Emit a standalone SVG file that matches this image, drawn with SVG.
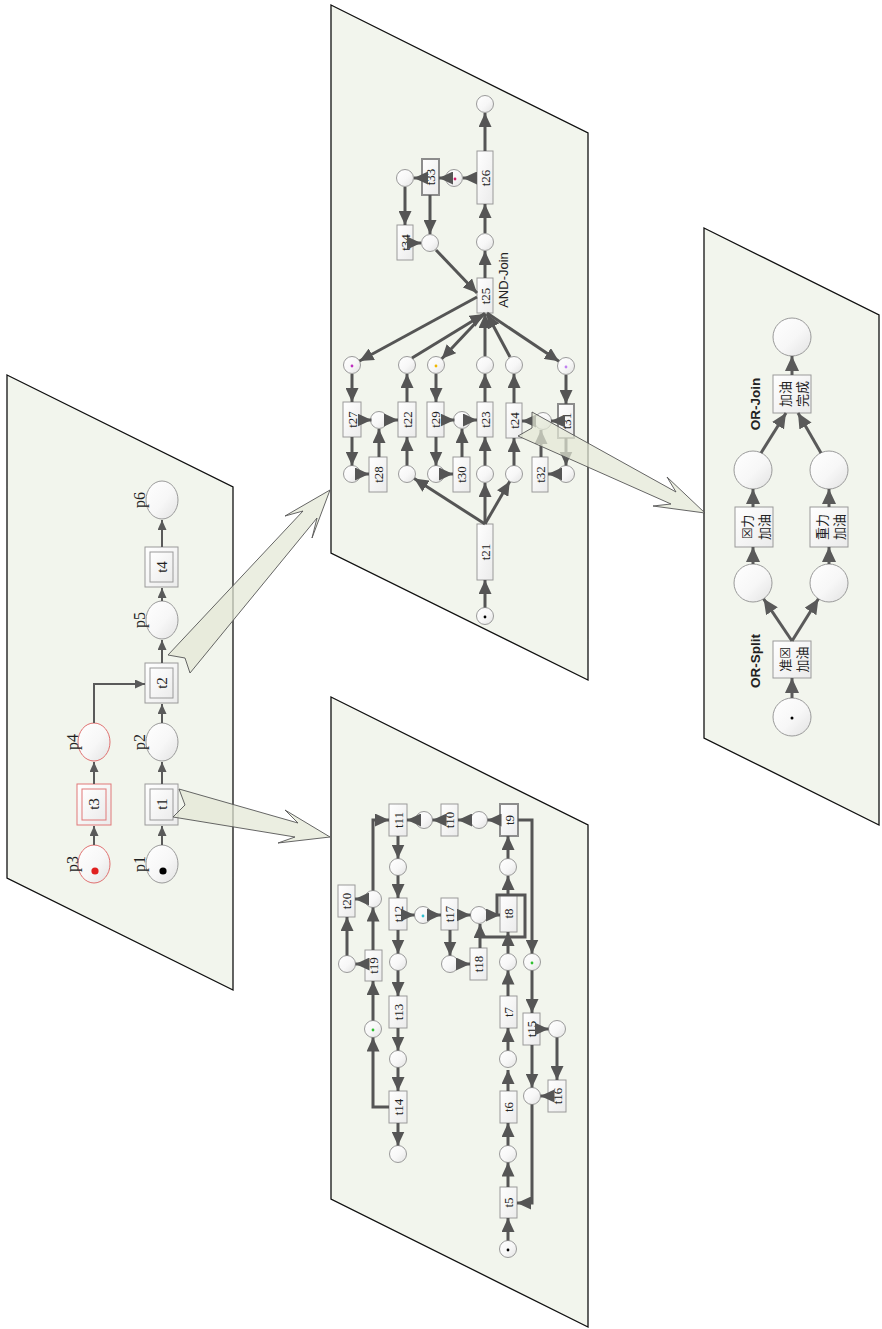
<svg xmlns="http://www.w3.org/2000/svg" width="882" height="1329" viewBox="0 0 882 1329">
<defs>
  <linearGradient id="gPl" x1="0" y1="0" x2="1" y2="1">
    <stop offset="0" stop-color="#ffffff"/>
    <stop offset="0.55" stop-color="#f7f7f7"/>
    <stop offset="1" stop-color="#e2e2e2"/>
  </linearGradient>
  <linearGradient id="gTr" x1="0" y1="0" x2="1" y2="1">
    <stop offset="0" stop-color="#ffffff"/>
    <stop offset="1" stop-color="#ebebeb"/>
  </linearGradient>
  <marker id="ahS" markerUnits="userSpaceOnUse" markerWidth="10" markerHeight="9" refX="10" refY="4.5" orient="auto">
    <path d="M0,0 L10,4.5 L0,9 z" fill="#5a5a5a"/>
  </marker>
  <marker id="ah" markerUnits="userSpaceOnUse" markerWidth="14" markerHeight="13" refX="14" refY="6.5" orient="auto">
    <path d="M0,0 L14,6.5 L0,13 z" fill="#555"/>
  </marker>
  <marker id="ahL" markerUnits="userSpaceOnUse" markerWidth="15" markerHeight="14" refX="15" refY="7" orient="auto">
    <path d="M0,0 L15,7 L0,14 z" fill="#5a5a5a"/>
  </marker>
  <style>
    .panel { fill:#f2f5ed; stroke:#111; stroke-width:1.3; }
    .pl { fill:url(#gPl); stroke:#9a9a9a; stroke-width:1; }
    .plr { fill:url(#gPl); stroke:#e07070; stroke-width:1; }
    .tr { fill:url(#gTr); stroke:#9a9a9a; stroke-width:1; }
    .trh { fill:url(#gTr); stroke:#8c8c8c; stroke-width:2; }
    .trr { fill:url(#gTr); stroke:#e07878; stroke-width:1; }
    .e { fill:none; stroke:#555; stroke-width:3; marker-end:url(#ah); }
    .eS { fill:none; stroke:#5a5a5a; stroke-width:2; marker-end:url(#ahS); }
    .eL { fill:none; stroke:#5a5a5a; stroke-width:3; marker-end:url(#ahL); }
    .ln { fill:none; stroke:#555; stroke-width:3; }
    .blk { fill:#e3e8d6; fill-opacity:0.72; stroke:#555; stroke-width:0.9; }
    .t { font-family:"Liberation Serif","Times New Roman",serif; font-size:13px; fill:#222; text-anchor:middle; dominant-baseline:central; }
    .tB { font-family:"Liberation Serif","Times New Roman",serif; font-size:15px; fill:#222; text-anchor:middle; dominant-baseline:central; }
    .pL { font-family:"Liberation Serif","Times New Roman",serif; font-size:16px; fill:#222; text-anchor:middle; dominant-baseline:central; }
    .s { font-family:"Liberation Sans",Arial,sans-serif; font-size:13px; fill:#222; text-anchor:middle; dominant-baseline:central; }
    .sb { font-family:"Liberation Sans",Arial,sans-serif; font-size:13.5px; font-weight:bold; fill:#222; text-anchor:middle; dominant-baseline:central; }
    .zh { font-family:"Noto Sans CJK SC","DejaVu Sans",sans-serif; font-size:13px; fill:#222; text-anchor:middle; dominant-baseline:central; }
  </style>
</defs>

<!-- four tilted panels -->
<g id="panels">
  <polygon id="panel-main" class="panel" points="7,375 233,487 233,990 7,878"/>
  <polygon id="panel-and" class="panel" points="331,5 588,133 588,680 331,553"/>
  <polygon id="panel-seq" class="panel" points="331,697 588,825 588,1327 331,1199"/>
  <polygon id="panel-or" class="panel" points="704,228 879,315 879,825 704,738"/>
</g>

<!-- ===== main net ===== -->
<g id="p6"><ellipse class="pl" cx="162" cy="500" rx="16" ry="19"/><text class="pL" transform="translate(139,500) rotate(-90)">p6</text></g>
<g id="t4"><rect class="tr" x="145" y="547" width="33" height="40"/><rect class="tr" x="150" y="552" width="23" height="30"/><text class="tB" transform="translate(162,567) rotate(-90)">t4</text></g>
<g id="p5"><ellipse class="pl" cx="162" cy="620" rx="16" ry="19"/><text class="pL" transform="translate(139,620) rotate(-90)">p5</text></g>
<g id="t2"><rect class="tr" x="145" y="663" width="33" height="40"/><rect class="tr" x="150" y="668" width="23" height="30"/><text class="tB" transform="translate(162,683) rotate(-90)">t2</text></g>
<g id="p4"><ellipse class="plr" cx="94" cy="742" rx="16" ry="19"/><text class="pL" transform="translate(72,742) rotate(-90)">p4</text></g>
<g id="p2"><ellipse class="pl" cx="162" cy="742" rx="16" ry="19"/><text class="pL" transform="translate(139,742) rotate(-90)">p2</text></g>
<g id="t3"><rect class="trr" x="77" y="784" width="34" height="41"/><rect class="trr" x="82" y="789" width="24" height="31"/><text class="tB" transform="translate(94,804) rotate(-90)">t3</text></g>
<g id="t1"><rect class="tr" x="145" y="784" width="33" height="41"/><rect class="tr" x="150" y="789" width="23" height="31"/><text class="tB" transform="translate(162,804) rotate(-90)">t1</text></g>
<g id="p3"><ellipse class="plr" cx="94" cy="864" rx="16" ry="19"/><circle cx="95" cy="871" r="3.6" fill="#e02020"/><text class="pL" transform="translate(72,864) rotate(-90)">p3</text></g>
<g id="p1"><ellipse class="pl" cx="162" cy="864" rx="16" ry="19"/><circle cx="163" cy="871" r="3.6" fill="#000"/><text class="pL" transform="translate(139,864) rotate(-90)">p1</text></g>

<!-- ===== AND-join net ===== -->
<g id="a-p26out"><circle class="pl" cx="485" cy="104" r="8.5"/></g>
<g id="t26"><rect class="tr" x="477" y="151" width="16" height="53"/><text class="t" transform="translate(485,178) rotate(-90)">t26</text></g>
<g id="a-p26in"><circle class="pl" cx="485" cy="242" r="8.5"/></g>
<g id="t25"><rect class="tr" x="477" y="278" width="16" height="35"/><text class="t" transform="translate(485,296) rotate(-90)">t25</text><text class="s" transform="translate(503,280) rotate(-90)">AND-Join</text></g>
<g id="a-p33in"><circle class="pl" cx="454" cy="178" r="8.5"/><circle cx="455" cy="179" r="1.4" fill="#d0206a"/></g>
<g id="t33"><rect class="trh" x="422" y="159" width="17" height="36"/><text class="t" transform="translate(430.5,177) rotate(-90)">t33</text></g>
<g id="a-p34in"><circle class="pl" cx="405" cy="178" r="8.5"/></g>
<g id="t34"><rect class="tr" x="397" y="225" width="16" height="35"/><text class="t" transform="translate(405,242.5) rotate(-90)">t34</text></g>
<g id="a-p25back"><circle class="pl" cx="430" cy="243" r="8.5"/></g>

<g id="a-r1"><circle class="pl" cx="352" cy="365" r="8.5"/><circle cx="352" cy="366" r="1.4" fill="#c030c0"/></g>
<g id="a-r2"><circle class="pl" cx="407" cy="365" r="8.5"/></g>
<g id="a-r3"><circle class="pl" cx="436" cy="365" r="8.5"/><circle cx="436" cy="366" r="1.4" fill="#f0b800"/></g>
<g id="a-r4"><circle class="pl" cx="485" cy="365" r="8.5"/></g>
<g id="a-r5"><circle class="pl" cx="514" cy="365" r="8.5"/></g>
<g id="a-r6"><circle class="pl" cx="566" cy="366" r="8.5"/><circle cx="566" cy="367" r="1.4" fill="#c080f0"/></g>

<g id="t27"><rect class="tr" x="343" y="402" width="18" height="35"/><text class="t" transform="translate(352,419.5) rotate(-90)">t27</text></g>
<g id="a-m1"><circle class="pl" cx="379" cy="420" r="8.5"/></g>
<g id="t22"><rect class="tr" x="398" y="402" width="18" height="35"/><text class="t" transform="translate(407,419.5) rotate(-90)">t22</text></g>
<g id="t29"><rect class="tr" x="427" y="402" width="17" height="35"/><text class="t" transform="translate(435.5,419.5) rotate(-90)">t29</text></g>
<g id="a-m2"><circle class="pl" cx="462" cy="420" r="8.5"/></g>
<g id="t23"><rect class="tr" x="477" y="402" width="16" height="35"/><text class="t" transform="translate(485,419.5) rotate(-90)">t23</text></g>
<g id="t24"><rect class="tr" x="506" y="403" width="16" height="35"/><text class="t" transform="translate(514,420.5) rotate(-90)">t24</text></g>
<g id="a-m3"><circle class="pl" cx="543" cy="421" r="8.5"/></g>
<g id="t31"><rect class="trh" x="558" y="404" width="16" height="34"/><text class="t" transform="translate(566,421) rotate(-90)">t31</text></g>

<g id="a-b1"><circle class="pl" cx="352" cy="474" r="8.5"/></g>
<g id="t28"><rect class="tr" x="369" y="457" width="18" height="35"/><text class="t" transform="translate(378,474.5) rotate(-90)">t28</text></g>
<g id="a-b2"><circle class="pl" cx="407" cy="474" r="8.5"/></g>
<g id="a-b3"><circle class="pl" cx="436" cy="474" r="8.5"/></g>
<g id="t30"><rect class="tr" x="453" y="457" width="17" height="35"/><text class="t" transform="translate(461.5,474.5) rotate(-90)">t30</text></g>
<g id="a-b4"><circle class="pl" cx="485" cy="474" r="8.5"/></g>
<g id="a-b5"><circle class="pl" cx="514" cy="474" r="8.5"/></g>
<g id="t32"><rect class="tr" x="532" y="457" width="16" height="35"/><text class="t" transform="translate(540,474.5) rotate(-90)">t32</text></g>
<g id="a-b6"><circle class="pl" cx="566" cy="474" r="8.5"/></g>
<g id="t21"><rect class="tr" x="477" y="524" width="16" height="56"/><text class="t" transform="translate(485,552) rotate(-90)">t21</text></g>
<g id="a-start"><circle class="pl" cx="485" cy="616" r="8.5"/><circle cx="485" cy="617" r="1.4" fill="#000"/></g>

<!-- ===== sequence / loop net ===== -->
<g id="t11"><rect class="tr" x="389" y="804" width="18" height="32"/><text class="t" transform="translate(398,820) rotate(-90)">t11</text></g>
<g id="s-p10"><circle class="pl" cx="424" cy="820" r="8.5"/></g>
<g id="t10"><rect class="tr" x="441" y="804" width="17" height="32"/><text class="t" transform="translate(449.5,820) rotate(-90)">t10</text></g>
<g id="s-p9"><circle class="pl" cx="479" cy="820" r="8.5"/></g>
<g id="t9"><rect class="trh" x="500" y="804" width="18" height="32"/><text class="t" transform="translate(509,820) rotate(-90)">t9</text></g>
<g id="s-a"><circle class="pl" cx="398" cy="867" r="8.5"/></g>
<g id="s-b"><circle class="pl" cx="508" cy="867" r="8.5"/></g>
<g id="t20"><rect class="tr" x="338" y="885" width="17" height="32"/><text class="t" transform="translate(346.5,901) rotate(-90)">t20</text></g>
<g id="s-c"><circle class="pl" cx="373" cy="899" r="8.5"/></g>
<g id="t12"><rect class="tr" x="389" y="898" width="18" height="32"/><text class="t" transform="translate(398,914) rotate(-90)">t12</text></g>
<g id="s-d"><circle class="pl" cx="423" cy="915" r="8.5"/><circle cx="423" cy="916" r="1.4" fill="#30c0d0"/></g>
<g id="t17"><rect class="tr" x="441" y="898" width="17" height="32"/><text class="t" transform="translate(449.5,914) rotate(-90)">t17</text></g>
<g id="s-e"><circle class="pl" cx="479" cy="915" r="8.5"/></g>
<g id="t8"><rect class="tr" x="500" y="895" width="17" height="37"/><text class="t" transform="translate(508.5,913.5) rotate(-90)">t8</text></g>
<g id="t19"><rect class="tr" x="365" y="950" width="17" height="31"/><text class="t" transform="translate(373.5,965.5) rotate(-90)">t19</text></g>
<g id="s-f"><circle class="pl" cx="347" cy="964" r="8.5"/></g>
<g id="s-g"><circle class="pl" cx="398" cy="962" r="8.5"/></g>
<g id="s-h"><circle class="pl" cx="450" cy="964" r="8.5"/></g>
<g id="t18"><rect class="tr" x="470" y="948" width="17" height="32"/><text class="t" transform="translate(478.5,964) rotate(-90)">t18</text></g>
<g id="s-i"><circle class="pl" cx="508" cy="962" r="8.5"/></g>
<g id="s-j"><circle class="pl" cx="532" cy="962" r="8.5"/><circle cx="532" cy="963" r="1.4" fill="#30c030"/></g>
<g id="t13"><rect class="tr" x="389" y="996" width="18" height="32"/><text class="t" transform="translate(398,1012) rotate(-90)">t13</text></g>
<g id="t7"><rect class="tr" x="500" y="996" width="17" height="32"/><text class="t" transform="translate(508.5,1012) rotate(-90)">t7</text></g>
<g id="s-k"><circle class="pl" cx="373" cy="1029" r="8.5"/><circle cx="373" cy="1030" r="1.4" fill="#30c030"/></g>
<g id="t15"><rect class="tr" x="523" y="1013" width="17" height="32"/><text class="t" transform="translate(531.5,1029) rotate(-90)">t15</text></g>
<g id="s-l"><circle class="pl" cx="557" cy="1029" r="8.5"/></g>
<g id="s-m"><circle class="pl" cx="398" cy="1059" r="8.5"/></g>
<g id="s-n"><circle class="pl" cx="508" cy="1059" r="8.5"/></g>
<g id="t16"><rect class="tr" x="548" y="1080" width="18" height="32"/><text class="t" transform="translate(557,1096) rotate(-90)">t16</text></g>
<g id="t14"><rect class="tr" x="389" y="1091" width="18" height="32"/><text class="t" transform="translate(398,1107) rotate(-90)">t14</text></g>
<g id="t6"><rect class="tr" x="500" y="1091" width="17" height="32"/><text class="t" transform="translate(508.5,1107) rotate(-90)">t6</text></g>
<g id="s-o"><circle class="pl" cx="532" cy="1096" r="8.5"/></g>
<g id="s-q"><circle class="pl" cx="398" cy="1154" r="8.5"/></g>
<g id="s-r"><circle class="pl" cx="508" cy="1154" r="8.5"/></g>
<g id="t5"><rect class="tr" x="500" y="1187" width="17" height="31"/><text class="t" transform="translate(508.5,1202.5) rotate(-90)">t5</text></g>
<g id="s-start"><circle class="pl" cx="508" cy="1249" r="8.5"/><circle cx="508" cy="1250" r="1.4" fill="#000"/></g>

<!-- ===== OR split / join net ===== -->
<g id="o-end"><circle class="pl" cx="792" cy="337" r="19"/></g>
<g id="o-done"><rect class="tr" x="773" y="375" width="38" height="38"/>
  <text class="zh" transform="translate(784,394) rotate(-90)">加油</text>
  <text class="zh" transform="translate(801,394) rotate(-90)">完成</text>
  <text class="sb" transform="translate(755,404) rotate(-90)">OR-Join</text></g>
<g id="o-l1"><circle class="pl" cx="753" cy="470" r="19"/></g>
<g id="o-r1"><circle class="pl" cx="829" cy="470" r="19"/></g>
<g id="o-left"><rect class="tr" x="735" y="507" width="38" height="40"/>
  <text class="zh" transform="translate(746,527) rotate(-90)">☒力</text>
  <text class="zh" transform="translate(763,527) rotate(-90)">加油</text></g>
<g id="o-right"><rect class="tr" x="810" y="507" width="38" height="40"/>
  <text class="zh" transform="translate(821,527) rotate(-90)">重力</text>
  <text class="zh" transform="translate(838,527) rotate(-90)">加油</text></g>
<g id="o-l2"><circle class="pl" cx="753" cy="583" r="19"/></g>
<g id="o-r2"><circle class="pl" cx="829" cy="583" r="19"/></g>
<g id="o-split"><rect class="tr" x="773" y="641" width="38" height="37"/>
  <text class="zh" transform="translate(784,659.5) rotate(-90)">准☒</text>
  <text class="zh" transform="translate(801,659.5) rotate(-90)">加油</text>
  <text class="sb" transform="translate(755,661) rotate(-90)">OR-Split</text></g>
<g id="o-start"><circle class="pl" cx="792" cy="717" r="19"/><circle cx="792" cy="718" r="1.5" fill="#000"/></g>

<!-- arcs -->
<g id="connectors">
  <!-- main net -->
  <path class="eS" d="M162,845 V826"/>
  <path class="eS" d="M162,784 V762"/>
  <path class="eS" d="M162,723 V704"/>
  <path class="eS" d="M162,663 V640"/>
  <path class="eS" d="M162,601 V588"/>
  <path class="eS" d="M162,547 V520"/>
  <path class="eS" d="M94,845 V826"/>
  <path class="eS" d="M94,784 V762" stroke-width="3"/>
  <path class="eS" d="M94,723 V684 H145"/>

  <!-- AND-join net -->
  <path class="e" d="M485,151 V113"/>
  <path class="e" d="M485,233 V204"/>
  <path class="e" d="M485,278 V251"/>
  <path class="e" d="M477,178 H463"/>
  <path class="e" d="M445.5,178 H439"/>
  <path class="e" d="M422,178 H414"/>
  <path class="e" d="M405,187 V225"/>
  <path class="e" d="M430,195 V234"/>
  <path class="e" d="M413,243 H421"/>
  <path class="e" d="M436,250 L477,293"/>
  <path class="e" d="M477,297 L359.5,361"/>
  <path class="e" d="M412,358 L484,314"/>
  <path class="e" d="M485,313 L441.8,358.8"/>
  <path class="e" d="M485,356 V314"/>
  <path class="e" d="M510,357 L487,314"/>
  <path class="e" d="M487,313 L558.9,361.3"/>
  <path class="e" d="M352,374 V402"/>
  <path class="e" d="M361,420 H371.5"/>
  <path class="e" d="M387.5,420 H398"/>
  <path class="e" d="M407,402 V374"/>
  <path class="e" d="M436,374 V402"/>
  <path class="e" d="M444,420 H454.5"/>
  <path class="e" d="M470.5,420 H477"/>
  <path class="e" d="M485,402 V374"/>
  <path class="e" d="M514,403 V374"/>
  <path class="e" d="M566,375 V404"/>
  <path class="e" d="M558,421 H551"/>
  <path class="e" d="M534.5,421 H522"/>
  <path class="e" d="M352,437 V465.5"/>
  <path class="e" d="M360.5,474 H369"/>
  <path class="e" d="M379,457 V429"/>
  <path class="e" d="M407,465.5 V437"/>
  <path class="e" d="M436,437 V465.5"/>
  <path class="e" d="M444.5,474 H453"/>
  <path class="e" d="M462,457 V429"/>
  <path class="e" d="M485,465.5 V437"/>
  <path class="e" d="M514,465.5 V438"/>
  <path class="e" d="M541,457 V430"/>
  <path class="e" d="M566,438 V465.5"/>
  <path class="e" d="M557.5,474 H548"/>
  <path class="e" d="M485,524 V483"/>
  <path class="e" d="M485,524 L414.2,478.6"/>
  <path class="e" d="M485,524 L509.7,481.4"/>
  <path class="e" d="M485,607.5 V580"/>

  <!-- sequence / loop net -->
  <path class="e" d="M500,820 H487.5"/>
  <path class="e" d="M470.5,820 H458"/>
  <path class="e" d="M441,820 H432.5"/>
  <path class="e" d="M415.5,820 H407"/>
  <path class="e" d="M398,836 V858.5"/>
  <path class="e" d="M398,875.5 V898"/>
  <path class="e" d="M373,890.5 V820 H389"/>
  <path class="e" d="M364.5,899 H355"/>
  <path class="e" d="M347,955.5 V917"/>
  <path class="e" d="M373,950 V907.5"/>
  <path class="e" d="M365,964 H355.5"/>
  <path class="e" d="M373,1020.5 V981"/>
  <path class="e" d="M389,1107 H373 V1037.5"/>
  <path class="e" d="M407,915 H414.5"/>
  <path class="e" d="M431.5,915 H441"/>
  <path class="e" d="M458,915 H470.5"/>
  <path class="e" d="M487.5,915 H500"/>
  <path class="e" d="M450,930 V955.5"/>
  <path class="e" d="M458.5,964 H470"/>
  <path class="e" d="M398,930 V953.5"/>
  <path class="e" d="M398,970.5 V996"/>
  <path class="e" d="M398,1028 V1050.5"/>
  <path class="e" d="M398,1067.5 V1091"/>
  <path class="e" d="M398,1123 V1145.5"/>
  <path class="e" d="M508,858.5 V836"/>
  <path class="e" d="M508,895 V876"/>
  <path class="e" d="M508,953.5 V932"/>
  <path class="e" d="M508,996 V970.5"/>
  <path class="e" d="M508,1050.5 V1028"/>
  <path class="e" d="M508,1091 V1070"/>
  <path class="e" d="M508,1145.5 V1123"/>
  <path class="e" d="M508,1187 V1162.5"/>
  <path class="e" d="M508,1240.5 V1218"/>
  <path class="ln" d="M497,915 V895 H525 V937 H480"/>
  <path class="e" d="M480,948 V924"/>
  <path class="e" d="M518,820 H532 V953.5"/>
  <path class="e" d="M532,970.5 V1013"/>
  <path class="e" d="M540,1029 H548.5"/>
  <path class="e" d="M557,1037.5 V1080"/>
  <path class="e" d="M548,1096 H540.5"/>
  <path class="e" d="M532,1045 V1087.5"/>
  <path class="e" d="M532,1104.5 V1203 H517"/>

  <!-- OR net -->
  <path class="eL" d="M792,375 V356"/>
  <path class="eL" d="M761,453 L786,413"/>
  <path class="eL" d="M821,453 L798,413"/>
  <path class="eL" d="M753,507 V489"/>
  <path class="eL" d="M829,507 V489"/>
  <path class="eL" d="M753,564 V547"/>
  <path class="eL" d="M829,564 V547"/>
  <path class="eL" d="M792,641 L763.6,598.8"/>
  <path class="eL" d="M792,641 L818.4,598.8"/>
  <path class="eL" d="M792,698 V678"/>
</g>

<!-- refinement arrows between panels -->
<g id="zoom-arrows">
  <polygon class="blk" points="168,655 303,511 285,516 330,490 312,538 317,518 190,673 185,658"/>
  <polygon class="blk" points="532,412 676,492 667,477 705,513 653,506 671,504 518,436 532,428"/>
  <polygon class="blk" points="179,789 298,823 285,810 330,837 278,843 295,837 173,817 185,805"/>
</g>
</svg>
